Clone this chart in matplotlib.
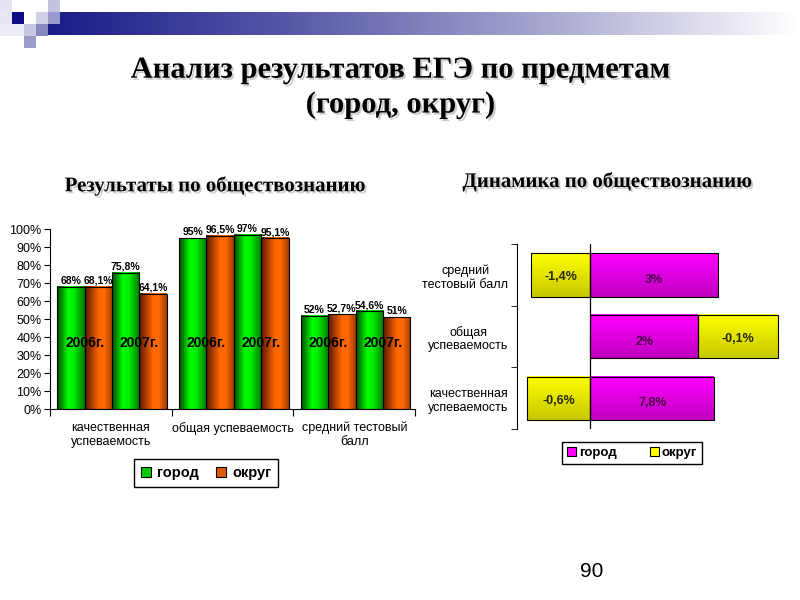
import matplotlib
matplotlib.use('Agg')
import matplotlib.pyplot as plt
import matplotlib.patheffects as pe
from matplotlib.colors import LinearSegmentedColormap
from matplotlib.patches import Rectangle
import numpy as np

# --- данные: результаты по обществознанию (%)
categories = ['качественная\nуспеваемость', 'общая успеваемость', 'средний тестовый\nбалл']
gorod_2006 = [68, 95, 52]
okrug_2006 = [68.1, 96.5, 52.7]
gorod_2007 = [75.8, 97, 54.6]
okrug_2007 = [64.1, 95.1, 51]
year_labels = ['2006г.', '2007г.']

# --- динамика (длины полос как на рисунке, подписи как на слайде)
dyn_categories = ['качественная\nуспеваемость', 'общая\nуспеваемость', 'средний\nтестовый балл']
dyn_gorod = [3.1, 2.7, 3.2]
dyn_okrug = [-1.6, 2.0, -1.5]
dyn_gorod_text = ['7,8%', '2%', '3%']
dyn_okrug_text = ['-0,6%', '-0,1%', '-1,4%']

SANS = ['Liberation Sans', 'DejaVu Sans']
SERIF = ['Liberation Serif', 'DejaVu Serif']

green_cm = LinearSegmentedColormap.from_list('g', [(0, '#004a00'), (0.4, '#00ff00'), (0.6, '#00ee00'), (1, '#007a00')])
orange_cm = LinearSegmentedColormap.from_list('o', [(0, '#5a1800'), (0.5, '#ff6600'), (0.7, '#ff6a00'), (1, '#a03c00')])
magenta_cm = LinearSegmentedColormap.from_list('m', ['#c000c0', '#ff00ff'])
yellow_cm = LinearSegmentedColormap.from_list('y', ['#c8c800', '#ffff00'])


def gradient_bars(ax, bars, cmap, vertical=False):
    grad = np.linspace(0, 1, 64)
    img = grad[:, None] if vertical else grad[None, :]
    for b in bars:
        x, y, w, h = b.get_x(), b.get_y(), b.get_width(), b.get_height()
        x0, x1 = min(x, x + w), max(x, x + w)
        ax.imshow(img, cmap=cmap, extent=(x0, x1, y, y + h), aspect='auto',
                  origin='lower', zorder=1.5, interpolation='bilinear')
        b.set_facecolor('none')
        b.set_zorder(2)


fig = plt.figure(figsize=(8, 6), dpi=100)

# --- оформление слайда (верхняя полоса)
deco = fig.add_axes([0, 0, 1, 1], zorder=-5)
deco.axis('off')
band = LinearSegmentedColormap.from_list('b', ['#1a1a88', '#5a5aa8', '#a8a8d0', '#ffffff'])
deco.imshow(np.linspace(0, 1, 256)[None, :], cmap=band, extent=(48, 798, 35, 12), aspect='auto')
for (sx, sy, c) in [(0, 0, '#e4e4f2'), (0, 12, '#e8e8f4'), (0, 24, '#ececf6'), (48, 0, '#c4c4e0'),
                    (12, 12, '#0c0c84'), (36, 12, '#d0d0e8'), (48, 12, '#9999cc'),
                    (12, 24, '#ececf6'), (24, 24, '#c8c8e4'), (36, 24, '#8888c0'),
                    (24, 36, '#9c9ccc')]:
    deco.add_patch(Rectangle((sx, sy), 12, 12, facecolor=c, edgecolor='none'))
deco.set_xlim(0, 800)
deco.set_ylim(600, 0)

shadow = [pe.SimplePatchShadow(offset=(1.5, -1.5), alpha=0.2), pe.Normal()]
fig.text(0.5, 0.883, 'Анализ результатов ЕГЭ по предметам', ha='center', va='center',
         fontsize=22, fontweight='bold', family=SERIF, path_effects=shadow)
fig.text(0.5, 0.825, '(город, округ)', ha='center', va='center',
         fontsize=22, fontweight='bold', family=SERIF, path_effects=shadow)
fig.text(0.269, 0.69, 'Результаты по обществознанию', ha='center', va='center',
         fontsize=15, fontweight='bold', family=SERIF, path_effects=shadow)
fig.text(0.759, 0.697, 'Динамика по обществознанию', ha='center', va='center',
         fontsize=15, fontweight='bold', family=SERIF, path_effects=shadow)
fig.text(0.74, 0.047, '90', ha='center', va='center', fontsize=15, family=SANS)

# --- левая диаграмма
ax = fig.add_axes([0.0625, 0.318, 0.4565, 0.30])
n = len(categories)
xc = np.arange(n) + 0.5
bw = 0.225
series = [(gorod_2006, green_cm), (okrug_2006, orange_cm), (gorod_2007, green_cm), (okrug_2007, orange_cm)]
for i, (vals, cm) in enumerate(series):
    pos = xc + (i - 1.5) * bw + 0.01
    v = np.array(vals) / 100
    bars = ax.bar(pos, v, width=bw, edgecolor='black', linewidth=0.8)
    gradient_bars(ax, bars, cm)
    for p, val in zip(pos, vals):
        ax.text(p, val / 100 + 0.005, f'{val:g}%'.replace('.', ','), ha='center', va='bottom',
                fontsize=7.5, fontweight='bold', family=SANS, zorder=4)
for c in xc:
    for k, lab in enumerate(year_labels):
        ax.text(c + 0.01 + (2 * k - 1) * bw, 0.367, lab, ha='center', va='center',
                fontsize=10, fontweight='bold', family=SANS, zorder=4)

ax.set_xlim(0, n)
ax.set_ylim(0, 1)
ax.set_yticks(np.arange(0, 1.01, 0.1))
ax.set_yticklabels([f'{int(round(t * 100))}%' for t in np.arange(0, 1.01, 0.1)], family=SANS, fontsize=9)
ax.set_xticks(np.arange(n + 1))
ax.set_xticklabels([])
ax.set_xticks(xc, minor=True)
ax.set_xticklabels(categories, minor=True, family=SANS, fontsize=9)
ax.tick_params(axis='x', which='major', length=5, direction='out')
ax.tick_params(axis='x', which='minor', length=0, pad=9)
ax.tick_params(axis='y', length=4, direction='out', pad=2)
for s in ['top', 'right']:
    ax.spines[s].set_visible(False)

h1 = [Rectangle((0, 0), 1, 1, facecolor='#00cc00', edgecolor='black', linewidth=0.8),
      Rectangle((0, 0), 1, 1, facecolor='#e05a00', edgecolor='black', linewidth=0.8)]
leg = fig.legend(h1, ['город', 'округ'], loc='center', bbox_to_anchor=(0.2575, 0.2117), ncol=2,
                 prop={'family': SANS, 'weight': 'bold', 'size': 10.5}, frameon=True, fancybox=False,
                 edgecolor='black', framealpha=1, handlelength=0.7, handleheight=0.7,
                 handletextpad=0.4, columnspacing=1.2, borderpad=0.45)
leg.get_frame().set_linewidth(1.0)

# --- правая диаграмма
ax2 = fig.add_axes([0.646, 0.285, 0.34, 0.308])
yc = np.arange(len(dyn_categories))
g = np.array(dyn_gorod)
o = np.array(dyn_okrug)
gb = ax2.barh(yc, g, height=0.7, edgecolor='black', linewidth=0.8)
gradient_bars(ax2, gb, magenta_cm, vertical=True)
ob = ax2.barh(yc, o, left=np.where(o > 0, g, 0), height=0.7, edgecolor='black', linewidth=0.8)
gradient_bars(ax2, ob, yellow_cm, vertical=True)
for y, gv, ov, gt, ot in zip(yc, g, o, dyn_gorod_text, dyn_okrug_text):
    ax2.text(gv / 2, y - 0.08, gt, ha='center', va='center', fontsize=9, fontweight='bold',
             color='#4a004a', family=SANS, zorder=4)
    ox = (gv + ov / 2) if ov > 0 else ov / 2
    ax2.text(ox, y - 0.04, ot, ha='center', va='center', fontsize=9, fontweight='bold',
             color='#2a2a00', family=SANS, zorder=4)
ax2.axvline(0, color='black', linewidth=0.9, zorder=3)
ax2.set_xlim(-1.85, 4.98)
ax2.set_ylim(-0.5, len(dyn_categories) - 0.5)
ax2.set_yticks(yc)
ax2.set_yticklabels(dyn_categories, family=SANS, fontsize=9)
for t in ax2.get_yticklabels():
    t.set_multialignment('center')
ax2.set_yticks(np.arange(len(dyn_categories) + 1) - 0.5, minor=True)
ax2.tick_params(axis='y', which='major', length=0, pad=6)
ax2.tick_params(axis='y', which='minor', length=4, direction='out')
ax2.xaxis.set_visible(False)
for s in ['top', 'right', 'bottom']:
    ax2.spines[s].set_visible(False)

h2 = [Rectangle((0, 0), 1, 1, facecolor='#ff00ff', edgecolor='black', linewidth=0.8),
      Rectangle((0, 0), 1, 1, facecolor='#ffff00', edgecolor='black', linewidth=0.8)]
leg2 = fig.legend(h2, ['город', 'округ'], loc='center', bbox_to_anchor=(0.79, 0.245), ncol=2,
                  prop={'family': SANS, 'weight': 'bold', 'size': 9.5}, frameon=True, fancybox=False,
                  edgecolor='black', framealpha=1, handlelength=0.7, handleheight=0.7,
                  handletextpad=0.2, columnspacing=2.5, borderpad=0.4)
leg2.get_frame().set_linewidth(1.0)

fig.savefig('out.png', dpi=100)
